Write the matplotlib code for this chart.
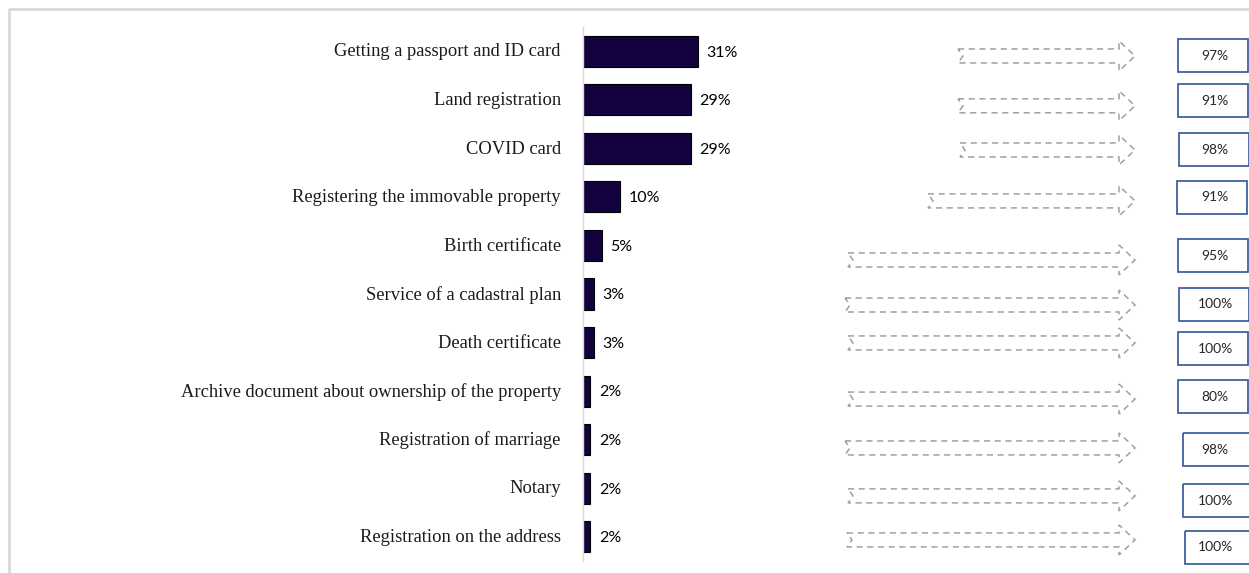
import matplotlib.pyplot as plt
from matplotlib.patches import Polygon, Rectangle

services = [
    'Getting a passport and ID card',
    'Land registration',
    'COVID card',
    'Registering the immovable property',
    'Birth certificate',
    'Service of a cadastral plan',
    'Death certificate',
    'Archive document about ownership of the property',
    'Registration of marriage',
    'Notary',
    'Registration on the address',
]
share = [31, 29, 29, 10, 5, 3, 3, 2, 2, 2, 2]
satisfied = [97, 91, 98, 91, 95, 100, 100, 80, 98, 100, 100]

# hand layout for the arrow / box column (pixels)
arrow_start = [958, 958, 960, 928, 848, 845, 848, 848, 845, 848, 847]
arrow_shift = [4.7, 6, 1.6, 4, 14.5, 11, 0.4, 8, 8.3, 7.7, 3.2]
box_left = [1178, 1178, 1179, 1177, 1178, 1179, 1178, 1178, 1183, 1183, 1185]
box_shift = [4.7, 1.1, 1.6, 0.5, 10.5, 10, 6.4, 5.8, 10.3, 12.7, 10.7]

W, H = 1249, 573
fig = plt.figure(figsize=(W / 100, H / 100), dpi=100)

# bar panel
ax = fig.add_axes([583 / W, 1 - 561 / H, (W - 583) / W, (561 - 27) / H])
ax.set_facecolor('none')
rows = list(range(len(services)))
ax.barh(rows, share, height=0.64, color='#14023f', edgecolor='black', linewidth=0.8)
ax.set_xlim(0, (W - 583) / 3.71)
ax.set_ylim(len(services) - 0.5, -0.5)
for s in ['top', 'right', 'bottom']:
    ax.spines[s].set_visible(False)
ax.spines['left'].set_color('#d9d9d9')
ax.spines['left'].set_linewidth(1.0)
ax.set_xticks([])
ax.set_yticks([])
for i, v in enumerate(share):
    ax.annotate(f'{v}%', (v, i), xytext=(6, -1), textcoords='offset points',
                ha='left', va='center', fontsize=11.5, family='Lato')
    ax.annotate(services[i], (0, i), xytext=(-16, -0.5), textcoords='offset points',
                ha='right', va='center', fontsize=13.3, family='Liberation Serif',
                color='#1a1a1a')

# overlay in pixel coordinates for frame, arrows and boxes
ov = fig.add_axes([0, 0, 1, 1], zorder=-1)
ov.set_xlim(0, W)
ov.set_ylim(H, 0)
ov.axis('off')
ov.plot([9, 9, W], [H, 9, 9], color='#d9d9d9', lw=2)

fig.canvas.draw()
to_pix = ax.transData
for i in rows:
    yc = H - to_pix.transform((0, i))[1]
    y = yc + arrow_shift[i]
    x0, xh, xt = arrow_start[i], 1119, 1135
    pts = [(x0, y - 7), (xh, y - 7), (xh, y - 15), (xt, y), (xh, y + 15),
           (xh, y + 7), (x0, y + 7), (x0 + 5, y)]
    ov.add_patch(Polygon(pts, closed=True, fill=False, edgecolor='#a0a0a0',
                         lw=1.1, linestyle=(0, (4, 3))))
    yb = yc + box_shift[i]
    ov.add_patch(Rectangle((box_left[i], yb - 16.5), 70, 33, fill=False,
                           edgecolor='#2f5597', lw=1.2))
    ov.text(1215, yb, f'{satisfied[i]}%', ha='center', va='center',
            fontsize=10, family='Lato', color='#262626')

fig.savefig('out.png', dpi=100)
